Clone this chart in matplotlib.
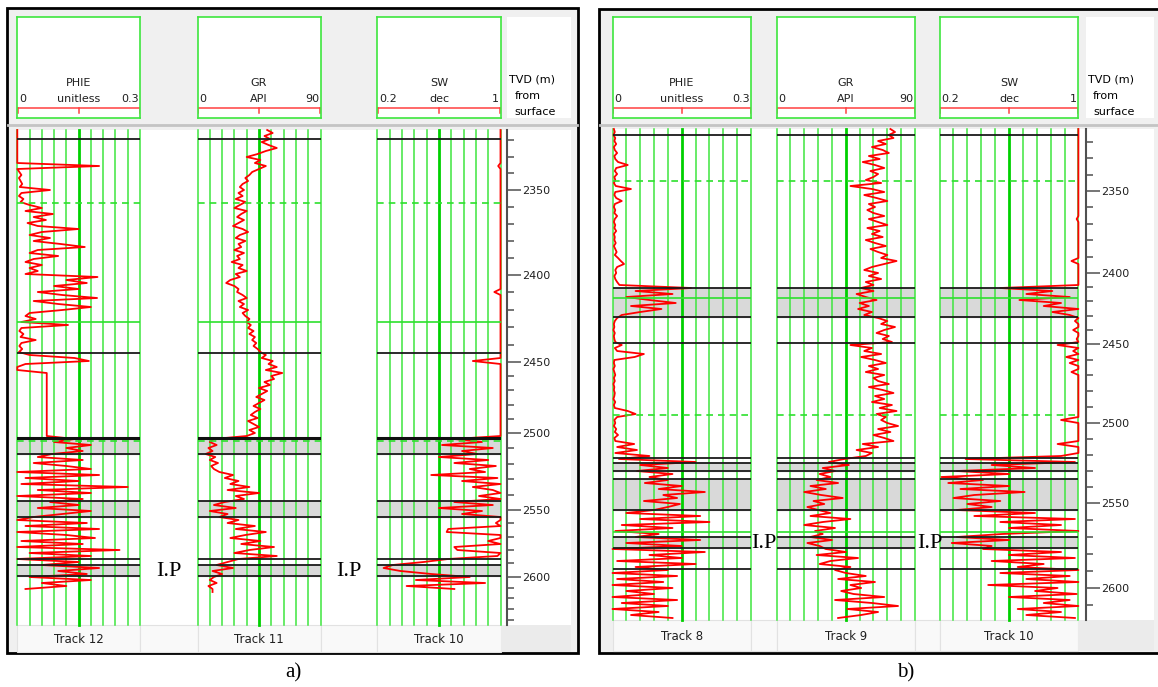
import numpy as np
import matplotlib.pyplot as plt
from matplotlib.patches import Rectangle

# ---------------- log data ----------------
# samples every 2.1 m of display (measured) depth, starting at the top of each panel
step = 2.1
md0_a = 2316.0
md0_b = 2315.3

# panel a (tracks 12 / 11 / 10)
phie_a = [0, 0, 0, 0, 0, 0, 0, 0, 0, 0, 0, 0, 0.2, 0,
          0.005, 0.01, 0.004, 0.008, 0.012, 0.006, 0.08,
          0.01, 0.004, 0.015, 0.008,
          0.03, 0.06, 0.02, 0.087, 0.04, 0.07, 0.025, 0.05, 0.15,
          0.06, 0.03, 0.08, 0.04, 0.106, 0.165,
          0.05, 0.03, 0.1, 0.04, 0.02, 0.06, 0.03, 0.05, 0.02, 0.196,
          0.12, 0.17, 0.09, 0.15, 0.05, 0.11, 0.195, 0.04, 0.1, 0.18, 0.11,
          0.03, 0.02, 0.045, 0.01, 0.124, 0.01, 0.005, 0.015, 0.008, 0.045,
          0.01, 0.005, 0.012, 0.004, 0.03, 0.14, 0.175, 0.02, 0, 0,
          0.072, 0.072, 0.072, 0.072, 0.072, 0.072, 0.072, 0.072, 0.072, 0.072, 0.072,
          0.072, 0.072, 0.072, 0.072, 0.072, 0.072, 0.072, 0.072, 0.072, 0.072, 0.072,
          0.14, 0.09, 0.18, 0.12, 0.16, 0.085,
          0.05, 0.16, 0.04, 0.12, 0.18,
          0.0, 0.2, 0.02, 0.15, 0.01, 0.27, 0.05, 0.18, 0.0, 0.16,
          0.08, 0.15, 0.05, 0.18, 0.11, 0.04,
          0.0, 0.17, 0.02, 0.2, 0.0, 0.12, 0.19, 0.01, 0.16, 0.0, 0.25, 0.03, 0.18, 0.0,
          0.15, 0.06, 0.2, 0.1, 0.17,
          0.03, 0.18, 0.06, 0.12, 0.02]

gr_a = [51, 55, 49, 53, 47, 52, 58, 50, 44, 36, 46, 42, 50, 45,
        40, 38, 35, 37, 33, 31, 34,
        30, 33, 28, 35, 31, 27, 36, 32, 29, 34, 30, 26, 33, 37, 31, 28, 35,
        30, 32, 27, 34, 29, 31, 25, 33, 30, 36, 28, 31, 24, 21, 27, 30,
        29, 33, 36, 30, 34, 31, 37, 33, 35, 38,
        36, 39, 37, 41, 38, 42, 40, 43, 41, 44,
        46, 50, 47, 55, 52, 58, 50, 62, 54, 56,
        49, 53, 45, 51, 47, 43, 49, 45, 41, 46,
        42, 39, 44, 37, 41, 45, 38, 42, 36,
        12, 9, 14, 8, 11, 6, 13, 9, 15, 10, 12,
        16, 26, 20, 30, 24, 38, 22, 45, 28, 34,
        20, 12, 28, 9, 22, 16,
        30, 22, 42, 28, 50, 35, 24, 46, 32, 56, 38, 27, 58, 30,
        22, 14, 26, 11, 18,
        12, 9, 14, 8, 11, 11]

sw_a = [1, 1, 1, 1, 1, 1, 1, 1, 1, 1,
        1, 1, 0.985, 1, 1, 1, 1, 1, 1, 1,
        1, 1, 1, 1, 1, 1, 1, 1, 1, 1,
        1, 1, 1, 1, 1, 1, 1, 1, 1, 1,
        1, 1, 1, 1, 1, 1, 1, 1, 1, 1,
        1, 1, 1, 1, 0.96, 1, 1, 1, 1, 1,
        1, 1, 1, 1, 1, 1, 1, 1, 1, 1,
        1, 1, 1, 1, 1, 1, 1, 0.82, 1, 1,
        1, 1, 1, 1, 1, 1, 1, 1, 1, 1,
        1, 1, 1, 1, 1, 1, 1, 1, 1, 1,
        1, 1, 1,
        0.7, 0.88, 0.62, 0.95, 0.75,
        0.85, 0.6, 0.92, 0.7, 0.97, 0.8,
        0.9, 0.55, 0.98, 0.75, 1.0, 0.82, 0.95, 1.0, 0.86, 1.0,
        0.7, 0.95, 0.6, 0.88, 0.75, 1.0,
        1.0, 0.97, 1.0, 0.66, 0.65, 1.0, 1.0, 0.92, 1.0, 0.7, 0.72, 1.0, 0.98, 0.66,
        0.5, 0.3, 0.24, 0.35, 0.55,
        0.8, 0.45, 0.9, 0.39, 0.7]

# panel b (tracks 8 / 9 / 10)
phie_b = [0.003, 0.005, 0.002, 0.006, 0.004, 0.008, 0.003, 0.005, 0.01, 0.004, 0.006, 0.012, 0.033,
          0.008, 0.005, 0.01, 0.004, 0.006, 0.003, 0.007, 0.04,
          0.006, 0.004, 0.008, 0.02, 0.005, 0.003, 0.006, 0.004, 0.01, 0.005, 0.003, 0.006,
          0.004, 0.008, 0.003, 0.005, 0.004, 0.007, 0.003, 0.006, 0.009, 0.005, 0.012, 0.018,
          0.025, 0.01, 0.006, 0.008, 0.004, 0.006, 0.01, 0.015,
          0.17, 0.05, 0.13, 0.03, 0.08, 0.137, 0.04, 0.106, 0.06, 0.02,
          0.01, 0.005, 0.003, 0.004, 0.002, 0.005, 0.003, 0.004, 0.006,
          0.02, 0.005, 0.01, 0.068, 0.048,
          0.004, 0.003, 0.005, 0.002, 0.004, 0.006, 0.003, 0.005, 0.002, 0.004, 0.003, 0.005,
          0.004, 0.002, 0.006, 0.003, 0.005, 0.033, 0.05, 0.01,
          0.004, 0.006, 0.003, 0.008, 0.005, 0.012, 0.004, 0.006, 0.047, 0.01, 0.053, 0.006,
          0.08, 0.014, 0.18, 0.06, 0.12, 0.053, 0.13, 0.08,
          0.12, 0.07, 0.15, 0.1, 0.2, 0.11, 0.14, 0.068, 0.146, 0.12, 0.09,
          0.03, 0.19, 0.06, 0.21, 0.02, 0.13, 0.006, 0.1,
          0.05, 0.19, 0.03, 0.15,
          0.0, 0.2, 0.08, 0.15, 0.01, 0.18, 0.05, 0.12,
          0.0, 0.14, 0.01, 0.11, 0.0, 0.13, 0.03, 0.09, 0.0, 0.14, 0.02, 0.12, 0.0, 0.1, 0.04, 0.13]

gr_b = [74, 77, 73, 76,
        66, 71, 62, 69, 73, 60, 67, 56, 64, 70, 61, 66,
        63, 58, 68, 48, 62, 70, 57, 65, 72, 60, 64, 59,
        63, 70, 60, 66, 72, 59, 67, 62, 69, 58, 64, 71, 61, 66, 72, 68, 78,
        70, 62, 57, 66, 60, 68, 58, 63,
        55, 63, 52, 58, 65, 54, 60, 53, 62, 57,
        66, 72, 68, 77, 70, 65, 73, 69, 75,
        48, 62, 57, 68, 55, 64, 71, 60, 66, 58, 70, 63,
        66, 73, 60, 69, 76, 64, 70, 62, 75, 67, 78, 65, 71, 68,
        72, 79, 66, 74, 63, 70, 76,
        56, 66, 52, 62, 58,
        44, 34, 47, 30, 38, 28, 35,
        26, 40, 22, 32, 18, 29, 43, 24, 31, 20, 27,
        35, 22, 48, 30, 18, 38, 25,
        30, 22, 36, 20, 28,
        32, 45, 26, 53, 35, 28, 48, 38,
        45, 58, 40, 64, 48, 55, 42,
        50, 70, 38, 62, 79, 46, 66, 55, 40]

sw_b = [1, 1, 1, 1, 1, 1, 1, 1, 1, 1,
        1, 1, 1, 1, 1, 1, 1, 1, 1, 1,
        1, 1, 1, 1, 1, 1, 1, 1, 1, 1,
        0.99, 1, 1, 1, 1, 1, 1, 1, 1, 1,
        1, 1, 1, 1, 0.96, 1, 1, 1, 1, 1,
        1, 1, 1,
        0.55, 0.85, 0.7, 0.95, 0.66, 0.9, 0.8, 1.0, 0.85, 0.95,
        1, 0.98, 1, 1, 0.97, 1, 1, 0.99, 1,
        0.88, 1, 0.97, 1, 0.93, 1, 0.95, 1, 1, 0.96, 1, 1,
        1, 1, 1, 1, 1, 1, 1, 1, 1, 1,
        1, 1, 1, 0.9, 1, 1, 1, 1, 1, 1,
        1, 0.88, 1, 1, 1,
        0.9, 0.35, 0.98, 0.5, 0.75, 0.3, 0.6, 0.21,
        0.45, 0.25, 0.6, 0.32, 0.69, 0.4, 0.28, 0.55, 0.36, 0.5, 0.3,
        0.75, 0.4, 0.98, 0.55, 0.9, 0.6, 1.0, 0.56,
        0.3, 0.6, 0.27, 0.5,
        0.45, 0.9, 0.6, 0.98, 0.5, 0.8, 0.65, 1.0,
        0.55, 0.95, 0.7, 1.0, 0.48, 0.88, 0.75, 0.99, 0.6, 0.95, 0.8, 1.0, 0.65, 0.9, 0.7, 0.98]

# zone markers (display depth)
black_a = [2322.5, 2472.1, 2543.0, 2575.7, 2587.1, 2616.1, 2620.7, 2628.2]
thick_a = [2531.4]
green_a = [2450.6]
dashed_a = [2367.3, 2533.7]
bands_a = [(2533.0, 2543.0), (2575.7, 2587.1), (2620.7, 2628.2)]

black_b = [2319.5, 2426.8, 2447.1, 2465.3, 2545.8, 2549.3, 2554.5, 2560.5,
           2582.0, 2601.1, 2608.4, 2623.5]
thick_b = []
green_b = [2433.4, 2597.2]
dashed_b = [2351.7, 2515.5]
bands_b = [(2426.8, 2447.1), (2549.3, 2554.5), (2560.5, 2582.0), (2601.1, 2608.4)]

# TVD <-> display depth tables
tvd_knots = [2300, 2350, 2400, 2450, 2500, 2550, 2600, 2650]
md_knots_a = [2299.9, 2358.0, 2417.5, 2478.6, 2527.9, 2582.0, 2628.7, 2666.7]
md_knots_b = [2301.3, 2358.7, 2416.1, 2465.8, 2520.9, 2577.3, 2636.8, 2695.4]
tvd_major = [2350, 2400, 2450, 2500, 2550, 2600]
tvd_minor = [d for d in range(2310, 2660, 10) if d % 50 != 0]

curve_names = ["PHIE", "GR", "SW"]
curve_units = ["unitless", "API", "dec"]
curve_lo = [0, 0, 0.2]
curve_hi = [0.3, 90, 1]
track_labels_a = ["Track 12", "Track 11", "Track 10"]
track_labels_b = ["Track 8", "Track 9", "Track 10"]

# ---------------- drawing ----------------
W, H = 1158, 687
fig = plt.figure(figsize=(W / 100, H / 100), dpi=100)


def box(x0, y0, x1, y1):
    return [x0 / W, 1 - y1 / H, (x1 - x0) / W, (y1 - y0) / H]


canvas = fig.add_axes([0, 0, 1, 1])
canvas.set_xlim(0, W)
canvas.set_ylim(H, 0)
canvas.axis("off")

GRID = "#3ee63e"
GRID_MID = "#00d000"
RED = "#ff0000"


def draw_panel(frame, tracks_x, tvd_x, data_y, label_y, md_top, logs, zones,
               md_knots, labels, ip_pos, caption):
    x0, y0, x1, y1 = frame
    canvas.add_patch(Rectangle((x0, y0), x1 - x0, y1 - y0, fc="#f0f0f0",
                               ec="black", lw=2, zorder=1))
    # header / data separator
    canvas.plot([x0 + 1, x1 - 1], [125, 125], color="#c4c4c4", lw=2, zorder=2)
    # white data area
    dx0 = tracks_x[0][0] - 1
    canvas.add_patch(Rectangle((dx0, data_y[0]), tvd_x[1] - dx0,
                               data_y[1] - data_y[0], fc="white", ec="none", zorder=2))
    # tvd header
    canvas.add_patch(Rectangle((tvd_x[0], 16.7), tvd_x[1] - tvd_x[0], 101.3,
                               fc="white", ec="none", zorder=2))
    canvas.text(tvd_x[0] + 2, 79, "TVD (m)", fontsize=8, va="center", zorder=3)
    canvas.text(tvd_x[0] + 7, 96, "from", fontsize=8, va="center", zorder=3)
    canvas.text(tvd_x[0] + 7, 112, "surface", fontsize=8, va="center", zorder=3)
    # track label row
    edges = [tracks_x[0][0], tracks_x[0][1], tracks_x[1][0], tracks_x[1][1],
             tracks_x[2][0], tracks_x[2][1]]
    for a, b in zip(edges[:-1], edges[1:]):
        canvas.add_patch(Rectangle((a, label_y[0]), b - a, label_y[1] - label_y[0],
                                   fc="#f9f9f9", ec="#e2e2e2", lw=0.8, zorder=2))
    canvas.add_patch(Rectangle((tracks_x[2][1], label_y[0]), tvd_x[1] - tracks_x[2][1],
                               label_y[1] - label_y[0], fc="#ebebeb", ec="none", zorder=2))

    md_bot = md_top + 0.7 * (data_y[1] - data_y[0])
    black, thick, green, dashed, bands = zones
    for k, (tx0, tx1) in enumerate(tracks_x):
        lo, hi = curve_lo[k], curve_hi[k]
        # header box
        hx = fig.add_axes(box(tx0, 16.7, tx1, 118))
        hx.set_xlim(0, 1)
        hx.set_ylim(0, 1)
        hx.set_xticks([])
        hx.set_yticks([])
        for s in hx.spines.values():
            s.set_color(GRID)
            s.set_linewidth(1.2)
        hx.plot([0, 1], [0.1, 0.1], color="#ff4040", lw=1.1)
        for xt in (0.003, 0.5, 0.997):
            hx.plot([xt, xt], [0.1, 0.045], color="#ff4040", lw=1.1)
        hx.text(0.5, 0.345, curve_names[k], ha="center", va="center", fontsize=8,
                color="#202020")
        hx.text(0.5, 0.19, curve_units[k], ha="center", va="center", fontsize=8,
                color="#202020")
        hx.text(0.015, 0.19, f"{lo:g}", ha="left", va="center", fontsize=8,
                color="#202020")
        hx.text(0.99, 0.19, f"{hi:g}", ha="right", va="center", fontsize=8,
                color="#202020")

        # data track
        ax = fig.add_axes(box(tx0, data_y[0], tx1, data_y[1]))
        ax.set_xlim(lo, hi)
        ax.set_ylim(md_bot, md_top)
        ax.axis("off")
        for g in range(11):
            xg = lo + g * (hi - lo) / 10
            ax.axvline(xg, color=GRID_MID if g == 5 else GRID,
                       lw=2.0 if g == 5 else 1.1, zorder=1, clip_on=False)
        for top, base in bands:
            ax.axhspan(top, base, color="#d9d9d9", zorder=0.5)
        vals = logs[k]
        depth = md_top + step * np.arange(len(vals))
        ax.plot(vals, depth, color=RED, lw=1.3, zorder=3, clip_on=False)
        for d in black:
            ax.axhline(d, color="#1a1a1a", lw=1.3, zorder=4)
        for d in thick:
            ax.axhline(d, color="#101010", lw=2.2, zorder=4)
        for d in green:
            ax.axhline(d, color="#2ee02e", lw=1.2, zorder=4)
        for d in dashed:
            ax.axhline(d, color="#2ee02e", lw=1.2, ls=(0, (4, 3)), zorder=4)

        canvas.text((tx0 + tx1) / 2, (label_y[0] + label_y[1]) / 2 + 1, labels[k],
                    ha="center", va="center", fontsize=8.5, color="#202020", zorder=3)

    # TVD axis
    tv = fig.add_axes(box(tvd_x[0] - 10, data_y[0], tvd_x[0], data_y[1]))
    tv.patch.set_visible(False)
    for s in ("left", "top", "bottom"):
        tv.spines[s].set_visible(False)
    tv.spines["right"].set_color("#505050")
    tv.spines["right"].set_linewidth(1.5)
    tv.set_xticks([])
    tv.yaxis.tick_right()
    tv.set_yticks(np.interp(tvd_major, tvd_knots, md_knots),
                  labels=[str(d) for d in tvd_major])
    tv.set_yticks(np.interp(tvd_minor, tvd_knots, md_knots), minor=True)
    tv.set_ylim(md_bot, md_top)
    tv.tick_params(axis="y", which="major", length=10, width=1.1, color="#505050",
                   labelsize=8, pad=1, labelcolor="#202020")
    tv.tick_params(axis="y", which="minor", length=5, width=1.1, color="#505050")

    for xp, yp in ip_pos:
        fig.text(xp / W, 1 - yp / H, "I.P", family="Liberation Serif", fontsize=16,
                 ha="left", va="center", zorder=6)
    fig.text(caption[1] / W, 1 - caption[2] / H, caption[0], family="Liberation Serif",
             fontsize=15, ha="center", va="center")


draw_panel((7, 8, 578, 653),
           [(17.3, 140), (197.5, 320.5), (377.4, 500.5)], (507.3, 571),
           (130, 625), (625, 652), md0_a,
           [phie_a, gr_a, sw_a], (black_a, thick_a, green_a, dashed_a, bands_a),
           md_knots_a, track_labels_a, [(156, 572), (336, 571)], ("a)", 293, 673))

draw_panel((599, 9, 1164, 653),
           [(612.5, 751), (776.6, 915), (939.6, 1078.4)], (1086, 1154),
           (129, 620), (620, 651), md0_b,
           [phie_b, gr_b, sw_b], (black_b, thick_b, green_b, dashed_b, bands_b),
           md_knots_b, track_labels_b, [(751, 543), (917, 543)], ("b)", 906, 673))

fig.savefig("out.png", dpi=100)
